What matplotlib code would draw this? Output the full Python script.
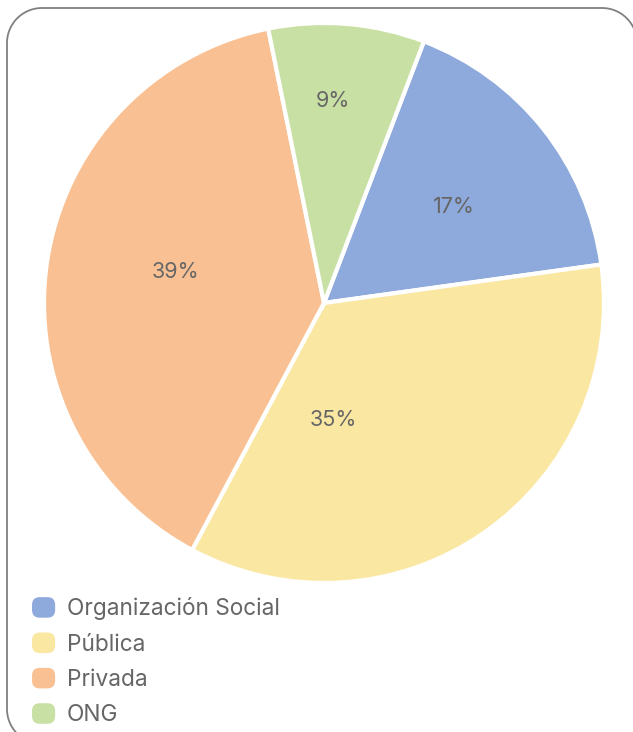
import numpy as np
import matplotlib.pyplot as plt
from matplotlib.patches import Patch, FancyBboxPatch, PathPatch
from matplotlib.path import Path
from matplotlib.transforms import IdentityTransform
from matplotlib.legend_handler import HandlerPatch

plt.rcParams['font.family'] = ['Inter', 'DejaVu Sans']

categorias = ["Organización Social", "Pública", "Privada", "ONG"]
porcentajes = [17, 35, 39, 9]
colores = ["#8EA9DB", "#FAE7A2", "#F9C193", "#C8E0A4"]
# posiciones de las etiquetas dentro de cada sector
pos_etiquetas = [(0.464, 0.342), (0.032, -0.417), (-0.532, 0.112), (0.032, 0.723)]

W, H = 633, 732
fig = plt.figure(figsize=(W / 100, H / 100), dpi=100)

# marco redondeado en pixeles (el lado derecho y el inferior quedan fuera)
r, izq, der, arr, aba = 35, 7, 637, 724, -12
t = np.linspace(0, np.pi / 2, 40)
pts = np.concatenate([
    np.c_[der - r + r * np.cos(t), arr - r + r * np.sin(t)],
    np.c_[izq + r + r * np.cos(t + np.pi / 2), arr - r + r * np.sin(t + np.pi / 2)],
    np.c_[izq + r + r * np.cos(t + np.pi), aba + r + r * np.sin(t + np.pi)],
    [[W + 20, aba]],
])
marco = PathPatch(Path(pts), fill=False, edgecolor="#808080", linewidth=1.3,
                  transform=IdentityTransform(), zorder=5)
fig.patches.append(marco)

ax = fig.add_axes([0.0695, 0.2036, 0.8847, 0.765])
wedges, textos, autotextos = ax.pie(
    porcentajes, colors=colores, startangle=69.1, counterclock=False,
    autopct="%1.0f%%", radius=1,
    wedgeprops=dict(edgecolor="white", linewidth=3),
    textprops=dict(color="#666666", fontsize=15.5))
for txt, (x, y) in zip(autotextos, pos_etiquetas):
    txt.set_position((x, y))
ax.set_xlim(-1, 1)
ax.set_ylim(-1, 1)
ax.set_aspect("equal")
ax.axis("off")


def cuadro_redondo(legend, orig_handle, xdescent, ydescent, width, height, fontsize):
    return FancyBboxPatch((-xdescent, -ydescent), width, height,
                          boxstyle="round,pad=0,rounding_size=5.5")


handles = [Patch(facecolor=c, edgecolor="none", linewidth=0) for c in colores]
fig.legend(handles, categorias, loc="upper left", bbox_to_anchor=(0.0363, 0.1966),
           borderaxespad=0, frameon=False, fontsize=16.3, labelcolor="#666666",
           handlelength=1.02, handleheight=1.02, handletextpad=0.53, labelspacing=0.545,
           handler_map={Patch: HandlerPatch(patch_func=cuadro_redondo)})

fig.savefig("out.png", dpi=100)
